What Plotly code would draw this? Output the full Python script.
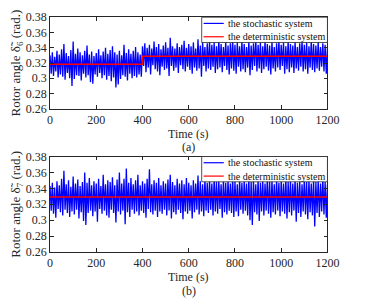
import plotly.graph_objects as go

# ---------------- data ----------------
time = list(range(0, 1201, 5))  # sampling grid (s)

stoch_a = [
    0.330, 0.306, 0.334, 0.303, 0.328, 0.309, 0.336, 0.301, 0.331, 0.305,
    0.338, 0.302, 0.345, 0.298, 0.333, 0.307, 0.329, 0.300, 0.337, 0.290,
    0.348, 0.299, 0.332, 0.304, 0.339, 0.303, 0.334, 0.297, 0.330, 0.306,
    0.336, 0.301, 0.343, 0.304, 0.331, 0.295, 0.335, 0.293, 0.329, 0.305,
    0.333, 0.302, 0.338, 0.307, 0.330, 0.300, 0.335, 0.304, 0.340, 0.298,
    0.332, 0.303, 0.337, 0.296, 0.342, 0.301, 0.334, 0.288, 0.331, 0.292,
    0.336, 0.299, 0.330, 0.304, 0.344, 0.302, 0.333, 0.297, 0.338, 0.306,
    0.332, 0.300, 0.336, 0.303, 0.341, 0.301, 0.334, 0.305, 0.331, 0.302,
    0.342, 0.316, 0.346, 0.308, 0.340, 0.314, 0.344, 0.305, 0.339, 0.317,
    0.348, 0.312, 0.341, 0.309, 0.345, 0.304, 0.338, 0.315, 0.343, 0.311,
    0.347, 0.313, 0.340, 0.303, 0.353, 0.316, 0.342, 0.310, 0.339, 0.314,
    0.346, 0.307, 0.341, 0.317, 0.344, 0.312, 0.349, 0.309, 0.340, 0.315,
    0.345, 0.311, 0.342, 0.306, 0.347, 0.314, 0.339, 0.310, 0.351, 0.313,
    0.343, 0.302, 0.348, 0.316, 0.341, 0.309, 0.346, 0.313, 0.349, 0.311,
    0.344, 0.315, 0.347, 0.307, 0.342, 0.312, 0.350, 0.314, 0.345, 0.308,
    0.341, 0.316, 0.348, 0.311, 0.343, 0.305, 0.346, 0.313, 0.350, 0.310,
    0.344, 0.306, 0.347, 0.315, 0.342, 0.309, 0.349, 0.312, 0.345, 0.308,
    0.341, 0.314, 0.348, 0.304, 0.343, 0.311, 0.346, 0.316, 0.351, 0.309,
    0.344, 0.313, 0.347, 0.307, 0.342, 0.312, 0.349, 0.315, 0.345, 0.310,
    0.343, 0.305, 0.348, 0.313, 0.341, 0.309, 0.346, 0.314, 0.350, 0.311,
    0.344, 0.316, 0.347, 0.306, 0.342, 0.312, 0.349, 0.308, 0.345, 0.314,
    0.343, 0.307, 0.348, 0.313, 0.341, 0.310, 0.346, 0.315, 0.350, 0.309,
    0.344, 0.312, 0.347, 0.306, 0.342, 0.314, 0.349, 0.311, 0.345, 0.308,
    0.343, 0.313, 0.348, 0.310, 0.341, 0.315, 0.346, 0.309, 0.344, 0.306,
    0.340,
]

stoch_b = [
    0.343, 0.312, 0.347, 0.308, 0.341, 0.303, 0.349, 0.314, 0.344, 0.310,
    0.352, 0.306, 0.362, 0.313, 0.345, 0.309, 0.350, 0.304, 0.342, 0.311,
    0.355, 0.307, 0.346, 0.313, 0.351, 0.302, 0.343, 0.310, 0.348, 0.299,
    0.360, 0.294, 0.347, 0.309, 0.353, 0.312, 0.344, 0.305, 0.349, 0.311,
    0.346, 0.298, 0.352, 0.314, 0.343, 0.308, 0.357, 0.312, 0.345, 0.306,
    0.350, 0.303, 0.348, 0.313, 0.354, 0.309, 0.344, 0.297, 0.351, 0.311,
    0.360, 0.307, 0.346, 0.312, 0.352, 0.295, 0.365, 0.310, 0.347, 0.304,
    0.353, 0.313, 0.345, 0.308, 0.350, 0.311, 0.357, 0.306, 0.344, 0.312,
    0.349, 0.309, 0.346, 0.303, 0.352, 0.314, 0.364, 0.310, 0.345, 0.307,
    0.350, 0.312, 0.347, 0.304, 0.353, 0.311, 0.344, 0.308, 0.349, 0.313,
    0.346, 0.306, 0.351, 0.312, 0.357, 0.302, 0.348, 0.310, 0.344, 0.307,
    0.352, 0.313, 0.346, 0.309, 0.350, 0.301, 0.345, 0.311, 0.353, 0.308,
    0.347, 0.312, 0.344, 0.302, 0.350, 0.310, 0.346, 0.313, 0.356, 0.307,
    0.349, 0.311, 0.345, 0.305, 0.352, 0.312, 0.347, 0.309, 0.351, 0.313,
    0.346, 0.306, 0.353, 0.311, 0.348, 0.308, 0.350, 0.314, 0.345, 0.303,
    0.352, 0.310, 0.347, 0.307, 0.351, 0.312, 0.346, 0.309, 0.354, 0.304,
    0.349, 0.311, 0.345, 0.305, 0.352, 0.313, 0.347, 0.308, 0.350, 0.312,
    0.346, 0.306, 0.353, 0.300, 0.348, 0.294, 0.351, 0.310, 0.345, 0.307,
    0.352, 0.299, 0.347, 0.311, 0.350, 0.306, 0.346, 0.312, 0.354, 0.308,
    0.348, 0.303, 0.351, 0.310, 0.345, 0.307, 0.352, 0.312, 0.347, 0.305,
    0.350, 0.311, 0.346, 0.308, 0.353, 0.302, 0.348, 0.310, 0.351, 0.306,
    0.346, 0.312, 0.352, 0.298, 0.347, 0.309, 0.350, 0.304, 0.345, 0.311,
    0.353, 0.307, 0.348, 0.301, 0.351, 0.310, 0.346, 0.306, 0.352, 0.292,
    0.348, 0.309, 0.351, 0.304, 0.346, 0.311, 0.353, 0.307, 0.348, 0.303,
    0.345,
]

det_a_time = [0, 400, 1200]
det_a_vals = [0.3185, 0.329, 0.329]
det_b_time = [0, 1200]
det_b_vals = [0.329, 0.329]

x_ticks = [0, 200, 400, 600, 800, 1000, 1200]
y_ticks = [0.26, 0.28, 0.30, 0.32, 0.34, 0.36, 0.38]
y_tick_text = ["0.26", "0.28", "0.3", "0.32", "0.34", "0.36", "0.38"]

legend_names = ["the stochastic system", "the deterministic system"]

# ---------------- figure ----------------
W, H = 374, 306
FONT = "Liberation Serif"
AX = "#262626"
BLUE = "#0000ff"
RED = "#ff0000"


def px(x):
    return x / W


def py(y):
    return 1 - y / H


fig = go.Figure()
fig.add_trace(go.Scatter(x=time, y=stoch_a, mode="lines",
                         line=dict(color=BLUE, width=1.3, simplify=False),
                         name=legend_names[0], xaxis="x", yaxis="y", showlegend=False))
fig.add_trace(go.Scatter(x=det_a_time, y=det_a_vals, mode="lines",
                         line=dict(color=RED, width=1.5, shape="hv"),
                         name=legend_names[1], xaxis="x", yaxis="y", showlegend=False))
fig.add_trace(go.Scatter(x=time, y=stoch_b, mode="lines",
                         line=dict(color=BLUE, width=1.3, simplify=False),
                         name=legend_names[0], xaxis="x2", yaxis="y2", showlegend=False))
fig.add_trace(go.Scatter(x=det_b_time, y=det_b_vals, mode="lines",
                         line=dict(color=RED, width=1.5, shape="hv"),
                         name=legend_names[1], xaxis="x2", yaxis="y2", showlegend=False))

# panel geometry in reference pixels: (top, bottom)
panels = [(10.7, 106.7), (156.7, 256.7)]
left, right = 49, 338

common_x = dict(range=[0, 1200], tickvals=x_ticks, ticks="inside", ticklen=4, tickcolor=AX,
                showline=True, linecolor=AX, linewidth=0.8, mirror="allticks", showgrid=False,
                zeroline=False, tickfont=dict(family=FONT, size=12, color=AX))
common_y = dict(range=[0.26, 0.38], tickvals=y_ticks, ticktext=y_tick_text, ticks="inside", ticklen=4,
                tickcolor=AX, showline=True, linecolor=AX, linewidth=0.8, mirror="allticks",
                showgrid=False, zeroline=False, tickfont=dict(family=FONT, size=12, color=AX))

fig.update_layout(
    width=W, height=H, margin=dict(l=0, r=0, t=0, b=0),
    paper_bgcolor="white", plot_bgcolor="white", showlegend=False,
    xaxis=dict(domain=[px(left), px(right)], anchor="y", **common_x),
    yaxis=dict(domain=[py(panels[0][1]), py(panels[0][0])], anchor="x", **common_y),
    xaxis2=dict(domain=[px(left), px(right)], anchor="y2", **common_x),
    yaxis2=dict(domain=[py(panels[1][1]), py(panels[1][0])], anchor="x2", **common_y),
)

shapes = []
annotations = []
subs = ["6", "7"]
labels = ["(a)", "(b)"]
for i, (top, bot) in enumerate(panels):
    annotations.append(dict(x=px(14), y=py((top + bot) / 2), xref="paper", yref="paper",
                            text="Rotor angle \u03b4\u0303<sub>%s</sub> (rad.)" % subs[i],
                            textangle=-90, showarrow=False, xanchor="center", yanchor="middle",
                            font=dict(family=FONT, size=13, color=AX)))
    annotations.append(dict(x=px((left + right) / 2), y=py(bot + 26.5), xref="paper", yref="paper",
                            text="Time (s)", showarrow=False, xanchor="center", yanchor="middle",
                            font=dict(family=FONT, size=12, color=AX)))
    annotations.append(dict(x=px((left + right) / 2), y=py(bot + 40.5), xref="paper", yref="paper",
                            text=labels[i], showarrow=False, xanchor="center", yanchor="middle",
                            font=dict(family=FONT, size=12, color=AX)))
    lt, lb = top, top + 26.5
    shapes.append(dict(type="rect", xref="paper", yref="paper", x0=px(207), x1=px(right),
                       y0=py(lb), y1=py(lt), fillcolor="white", line=dict(color=AX, width=0.8),
                       layer="above"))
    for j, (col, nm) in enumerate(zip([BLUE, RED], legend_names)):
        yy = lt + 6.5 + j * 14
        shapes.append(dict(type="line", xref="paper", yref="paper", x0=px(209), x1=px(230),
                           y0=py(yy), y1=py(yy), line=dict(color=col, width=1.2), layer="above"))
        annotations.append(dict(x=px(232), y=py(yy), xref="paper", yref="paper", text=nm,
                                showarrow=False, xanchor="left", yanchor="middle",
                                font=dict(family=FONT, size=10, color="#111111")))

fig.update_layout(shapes=shapes, annotations=annotations)
fig.write_html("out.html", config={"displayModeBar": False},
               post_script="document.body.style.margin='0';document.body.style.overflow='hidden';")
